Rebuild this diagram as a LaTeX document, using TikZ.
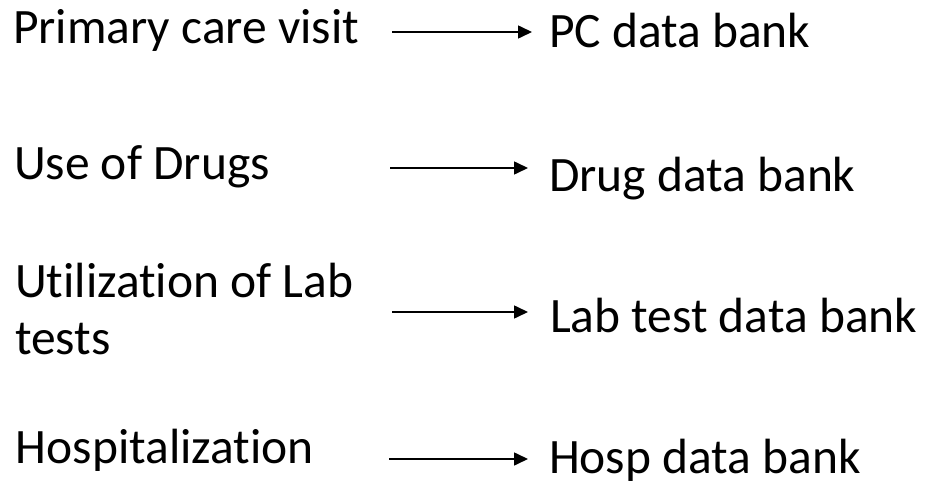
\documentclass[tikz,border=0pt]{standalone}
\usepackage{fontspec}
\setmainfont[Ligatures={NoCommon,NoContextual}]{Carlito}
\usetikzlibrary{arrows.meta}
\tikzset{
  lbl/.style={anchor=base west, inner sep=0pt, outer sep=0pt, font=\fontsize{49.5}{57.5}\selectfont},
  arr/.style={line width=1.6pt, -{Triangle[length=14pt,width=13pt]}}
}
\begin{document}
\begin{tikzpicture}[x=1pt,y=-1pt]
\useasboundingbox (0,0) rectangle (929,484);
\node[lbl] (a1) at (13,44) {Primary care visit};
\node[lbl] (a2) at (14,179) {Use of Drugs};
\node[lbl] (a3) at (15,297) {\begin{tabular}[t]{@{}l@{}}Utilization of Lab\\tests\end{tabular}};
\node[lbl] (a4) at (16,463) {Hospitalization};
\node[lbl] (b1) at (549,48) {PC data bank};
\node[lbl] (b2) at (549,191) {Drug data bank};
\node[lbl] (b3) at (550,332) {Lab test data bank};
\node[lbl] (b4) at (549,473) {Hosp data bank};
\coordinate (s1) at (392,32);  \coordinate (e1) at (532,32);
\coordinate (s2) at (390,168); \coordinate (e2) at (528,168);
\coordinate (s3) at (392,312); \coordinate (e3) at (528,312);
\coordinate (s4) at (389,459); \coordinate (e4) at (528,459);
\draw[arr] (s1) -- (e1);
\draw[arr] (s2) -- (e2);
\draw[arr] (s3) -- (e3);
\draw[arr] (s4) -- (e4);
\end{tikzpicture}
\end{document}
